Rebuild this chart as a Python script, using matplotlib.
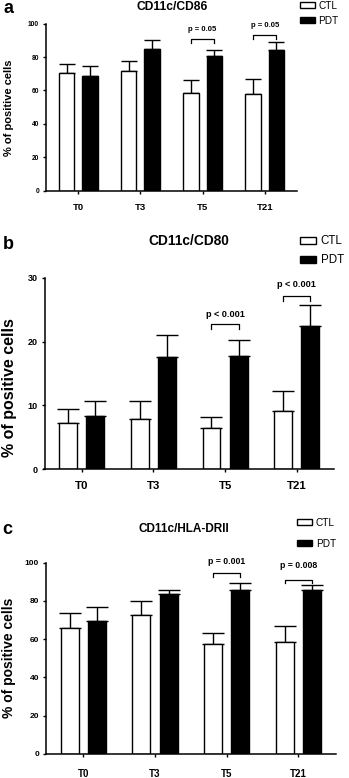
import matplotlib.pyplot as plt
from matplotlib.patches import Patch

plt.rcParams["font.family"] = ["Liberation Sans", "DejaVu Sans"]

groups = ["T0", "T3", "T5", "T21"]
series_names = ["CTL", "PDT"]

cd86_ctl = [70.6, 71.6, 58.2, 58.0]
cd86_ctl_err = [5.0, 6.0, 7.8, 9.0]
cd86_pdt = [68.8, 84.8, 80.4, 84.4]
cd86_pdt_err = [6.0, 5.2, 4.0, 4.4]

cd80_ctl = [7.2, 7.9, 6.4, 9.2]
cd80_ctl_err = [2.2, 2.8, 1.8, 3.1]
cd80_pdt = [8.4, 17.6, 17.7, 22.4]
cd80_pdt_err = [2.3, 3.4, 2.6, 3.4]

hla_ctl = [65.7, 72.7, 57.7, 58.4]
hla_ctl_err = [8.2, 7.1, 5.6, 8.6]
hla_pdt = [69.6, 83.5, 85.6, 85.6]
hla_pdt_err = [7.3, 2.1, 4.0, 2.9]

# p-values: (group index, label)
cd86_pvals = [(2, "p = 0.05"), (3, "p = 0.05")]
cd80_pvals = [(2, "p < 0.001"), (3, "p < 0.001")]
hla_pvals = [(2, "p = 0.001"), (3, "p = 0.008")]

W, H = 349, 778
fig = plt.figure(figsize=(W / 100, H / 100), dpi=100)


def px_rect(left, right, top, bottom):
    return [left / W, 1 - bottom / H, (right - left) / W, (bottom - top) / H]


def draw_panel(ax, ctl, ctl_err, pdt, pdt_err, ymax, ystep, pvals, brackets, s):
    x = range(len(groups))
    off, bw = 0.19, 0.25
    xc = [i - off for i in x]
    xp = [i + off for i in x]
    ax.bar(xc, ctl, bw, color="white", edgecolor="black", linewidth=1.0, zorder=2)
    ax.bar(xp, pdt, bw, color="black", edgecolor="black", linewidth=1.0, zorder=2)
    ax.errorbar(xc, ctl, yerr=[[0] * 4, ctl_err], fmt="none", ecolor="black",
                elinewidth=1.0, capsize=s["cap"], capthick=1.0, zorder=1)
    ax.errorbar(xp, pdt, yerr=[[0] * 4, pdt_err], fmt="none", ecolor="black",
                elinewidth=1.0, capsize=s["cap"], capthick=1.0, zorder=1)

    for (gi, label), (h, drop, ty) in zip(pvals, brackets):
        x0, x1 = gi - off, gi + off
        ax.plot([x0, x0, x1, x1], [h - drop, h, h, h - drop], color="black",
                lw=0.9, clip_on=False)
        ax.text(gi, ty, label, ha="center", va="center", fontsize=s["p"],
                fontweight="bold")

    ax.set_xlim(-0.52, 3.52)
    ax.set_ylim(0, ymax)
    ax.set_yticks(range(0, ymax + 1, ystep))
    ax.set_xticks(list(x))
    ax.set_xticklabels(groups, fontweight="bold", fontsize=s["xt"])
    ax.tick_params(axis="x", length=2.5, width=1.0, pad=s["xpad"])
    ax.tick_params(axis="y", length=2.5, width=1.0, pad=2.5, labelsize=s["yt"])
    for lab in ax.get_yticklabels():
        lab.set_fontweight("bold")
    for side in ("top", "right"):
        ax.spines[side].set_visible(False)
    for side in ("left", "bottom"):
        ax.spines[side].set_linewidth(1.1)


def panel_text(letter, lx, lby, title, tx, ty, ylx, yly, leg_x, leg_y, s, ax):
    fig.text(lx / W, 1 - lby / H, letter, fontsize=13, fontweight="bold",
             ha="left", va="baseline")
    fig.text(tx / W, 1 - ty / H, title, fontsize=s["title"], fontweight="bold",
             ha="center", va="center")
    fig.text(ylx / W, 1 - yly / H, "% of positive cells", rotation=90,
             fontsize=s["yl"], fontweight="bold", ha="center", va="center")
    handles = [Patch(facecolor="white", edgecolor="black", linewidth=1.0),
               Patch(facecolor="black", edgecolor="black", linewidth=1.0)]
    ax.legend(handles, series_names, loc="upper left",
              bbox_to_anchor=(leg_x / W, 1 - leg_y / H),
              bbox_transform=fig.transFigure, frameon=False,
              fontsize=s["leg"], handlelength=s["hl"], handleheight=0.55,
              handletextpad=0.4, labelspacing=s["ls"], borderpad=0,
              borderaxespad=0)


sa = dict(cap=5.5, p=5.5, xt=6.8, yt=4.8, xpad=6.5, title=8.7, yl=8.0,
          leg=7.2, hl=1.45, ls=0.5)
sb = dict(cap=8, p=6.6, xt=8.2, yt=6.5, xpad=6.0, title=9.9, yl=11.5,
          leg=8.3, hl=1.4, ls=0.6)
sc = dict(cap=8, p=6.3, xt=7.0, yt=6.0, xpad=8.0, title=8.5, yl=10.0,
          leg=7.2, hl=1.5, ls=1.15)

ax_a = fig.add_axes(px_rect(46, 297, 23.7, 190.5))
draw_panel(ax_a, cd86_ctl, cd86_ctl_err, cd86_pdt, cd86_pdt_err, 100, 20,
           cd86_pvals, [(90.6, 2.0, 96.8), (93.0, 2.0, 99.0)], sa)
panel_text("a", 3, 12.7, "CD11c/CD86", 172, 7.3, 9, 108, 300, 1.0, sa, ax_a)

ax_b = fig.add_axes(px_rect(44.5, 334, 277.7, 469.3))
draw_panel(ax_b, cd80_ctl, cd80_ctl_err, cd80_pdt, cd80_pdt_err, 30, 10,
           cd80_pvals, [(22.7, 0.7, 24.3), (27.1, 0.7, 28.9)], sb)
panel_text("b", 3, 249, "CD11c/CD80", 189, 241, 10, 388, 300, 235.5, sb, ax_b)

ax_c = fig.add_axes(px_rect(46, 335.7, 562.7, 754))
draw_panel(ax_c, hla_ctl, hla_ctl_err, hla_pdt, hla_pdt_err, 100, 20,
           hla_pvals, [(94.4, 2.0, 100.5), (90.8, 1.5, 98.4)], sc)
panel_text("c", 2, 534, "CD11c/HLA-DRII", 184, 529, 9, 658, 297, 517.5, sc, ax_c)

fig.savefig("out.png", dpi=100)
